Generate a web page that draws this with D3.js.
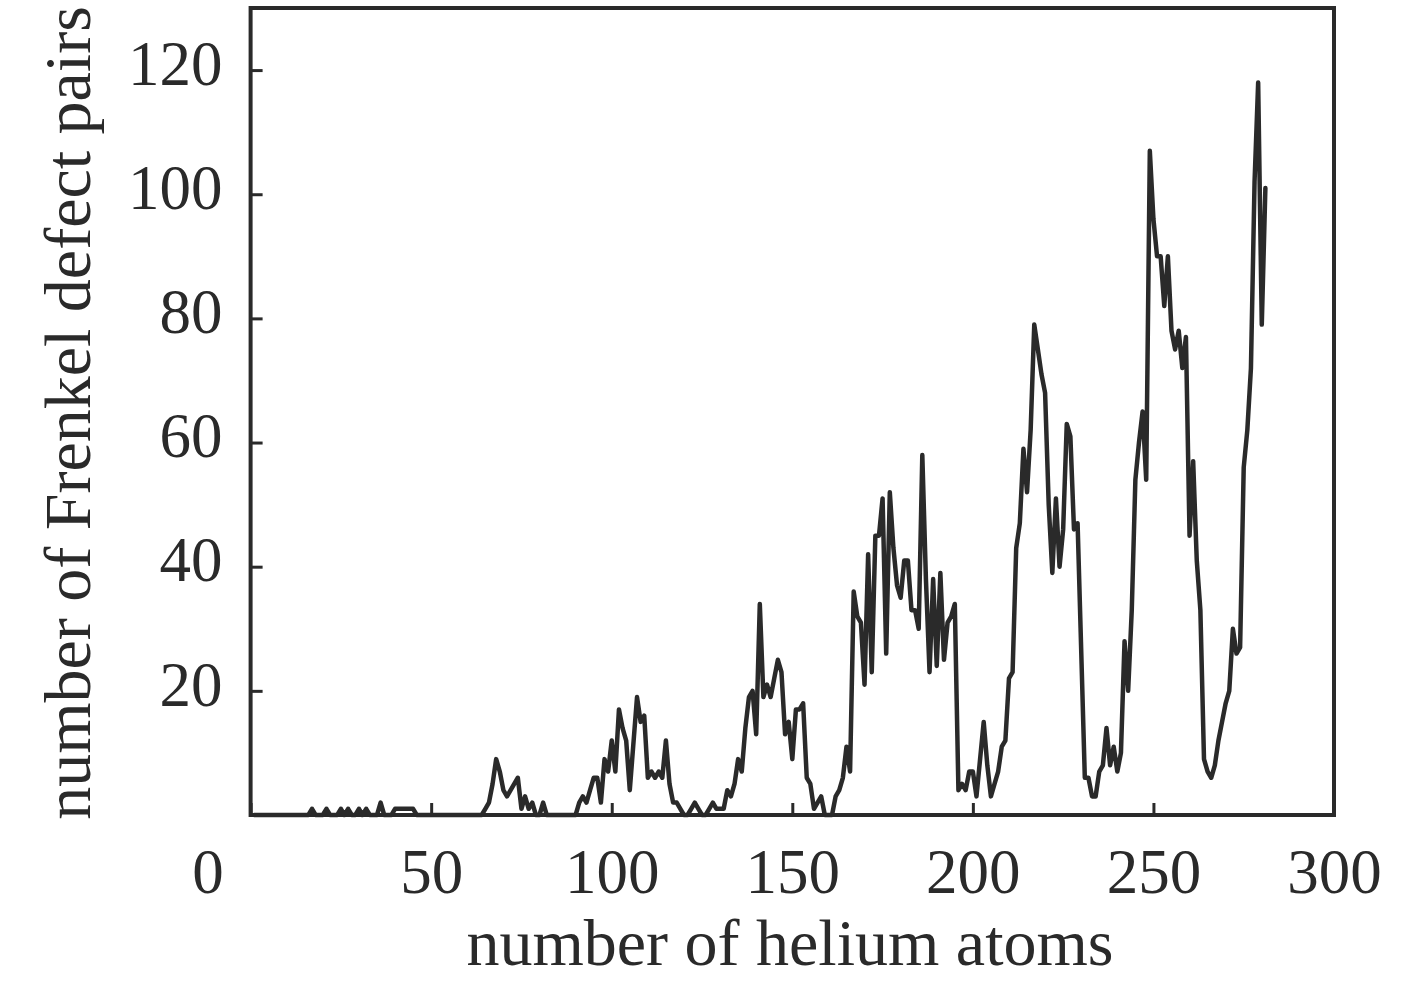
<!DOCTYPE html>
<html><head><meta charset="utf-8">
<script src="https://cdn.jsdelivr.net/npm/d3@7"></script>
<style>html,body{margin:0;padding:0;background:#fff;} svg{display:block;}</style>
</head><body>
<svg id="chart" width="1417" height="988"></svg>
<script>
// [number of helium atoms, number of Frenkel defect pairs]
const defectSeries = [
  [1,0],[16,0],[17,1],[18,0],[20,0],[21,1],[22,0],[24,0],[25,1],[26,0],[27,1],[28,0],[29,0],[30,1],[31,0],
  [32,1],[33,0],[35,0],[36,2],[37,0],[39,0],[40,1],[45,1],[46,0],
  [64,0],[65,1],[66,2],[67,5],[68,9],[69,7],[70,4],[71,3],[72,4],[73,5],[74,6],[75,1],[76,3],[77,1],[78,2],
  [79,0],[80,0],[81,2],[82,0],
  [90,0],[91,2],[92,3],[93,2],[94,4],[95,6],[96,6],[97,2],[98,9],[99,7],[100,12],[101,7],[102,17],[103,14],
  [104,12],[105,4],[107,19],[108,15],[109,16],[110,6],[111,7],[112,6],[113,7],[114,6],[115,12],[116,5],
  [117,2],[118,2],[119,1],[120,0],[121,0],[122,1],[123,2],[124,1],[125,0],[126,0],[127,1],[128,2],[129,1],
  [130,1],[131,1],[132,4],[133,3],[134,5],[135,9],[136,7],[137,14],[138,19],[139,20],[140,13],[141,34],
  [142,19],[143,21],[144,19],[145,22],[146,25],[147,23],[148,13],[149,15],[150,9],[151,17],[152,17],[153,18],
  [154,6],[155,5],[156,1],[157,2],[158,3],[159,0],[161,0],[162,3],[163,4],[164,6],[165,11],[166,7],[167,36],
  [168,32],[169,31],[170,21],[171,42],[172,23],[173,45],[174,45],[175,51],[176,26],[177,52],[178,43],[179,37],
  [180,35],[181,41],[182,41],[183,33],[184,33],[185,30],[186,58],[187,38],[188,23],[189,38],[190,24],[191,39],
  [192,25],[193,31],[194,32],[195,34],[196,4],[197,5],[198,4],[199,7],[200,7],[201,3],[203,15],[204,8],
  [205,3],[206,5],[207,7],[208,11],[209,12],[210,22],[211,23],[212,43],[213,47],[214,59],[215,52],[216,62],
  [217,79],[218,75],[219,71],[220,68],[221,50],[222,39],[223,51],[224,40],[225,46],[226,63],[227,61],[228,46],
  [229,47],[231,6],[232,6],[233,3],[234,3],[235,7],[236,8],[237,14],[238,8],[239,11],[240,7],[241,10],
  [242,28],[243,20],[244,33],[245,54],[246,60],[247,65],[248,54],[249,107],[250,96],[251,90],[252,90],
  [253,82],[254,90],[255,78],[256,75],[257,78],[258,72],[259,77],[260,45],[261,57],[262,41],[263,33],
  [264,9],[265,7],[266,6],[267,8],[268,12],[269,15],[270,18],[271,20],[272,30],[273,26],[274,27],[275,56],
  [276,62],[277,72],[278,102],[279,118],[280,79],[281,101]
];
const xTicks = [0,50,100,150,200,250,300];
const yTicks = [20,40,60,80,100,120];
const xTitle = "number of helium atoms";
const yTitle = "number of Frenkel defect pairs";

const pLeft=250.6, pRight=1334, pTop=8, pBottom=815;
const ink="#2a2a2a";
const font="'Liberation Serif','Times New Roman',serif";
const svg=d3.select("#chart");
const x=d3.scaleLinear().domain([0,300]).range([pLeft,pRight]);
const y=d3.scaleLinear().domain([0,130]).range([pBottom,pTop]);

// x axis
const gx = svg.append("g").attr("transform",`translate(0,${pBottom})`)
  .call(d3.axisBottom(x).tickValues(xTicks).tickSize(-12).tickPadding(0));
gx.select(".domain").remove();
gx.selectAll(".tick line").attr("stroke",ink).attr("stroke-width",3);
gx.selectAll(".tick text").attr("fill",ink).attr("font-family",font).attr("font-size",63)
  .attr("dy",null).attr("y",78)
  .attr("dx",d=>d===0?-43:0);

// y axis
const gy = svg.append("g").attr("transform",`translate(${pLeft},0)`)
  .call(d3.axisLeft(y).tickValues(yTicks).tickSize(-12).tickPadding(0));
gy.select(".domain").remove();
gy.selectAll(".tick line").attr("stroke",ink).attr("stroke-width",3);
gy.selectAll(".tick text").attr("fill",ink).attr("font-family",font).attr("font-size",63)
  .attr("x",-28).attr("dy","0.32em").attr("y",-6);

// frame
svg.append("rect").attr("x",pLeft).attr("y",pTop).attr("width",pRight-pLeft).attr("height",pBottom-pTop)
  .attr("fill","none").attr("stroke",ink).attr("stroke-width",4);

// line
svg.append("path").datum(defectSeries)
  .attr("fill","none").attr("stroke",ink).attr("stroke-width",4.5)
  .attr("stroke-linejoin","round").attr("stroke-linecap","round")
  .attr("d",d3.line().x(d=>x(d[0])).y(d=>y(d[1])));

// titles
svg.append("text").attr("x",790).attr("y",965).attr("text-anchor","middle")
  .attr("font-family",font).attr("font-size",66).attr("fill",ink).text(xTitle);
svg.append("text").attr("transform","translate(90,413) rotate(-90)").attr("text-anchor","middle")
  .attr("font-family",font).attr("font-size",66).attr("fill",ink).text(yTitle);
</script>
</body></html>
